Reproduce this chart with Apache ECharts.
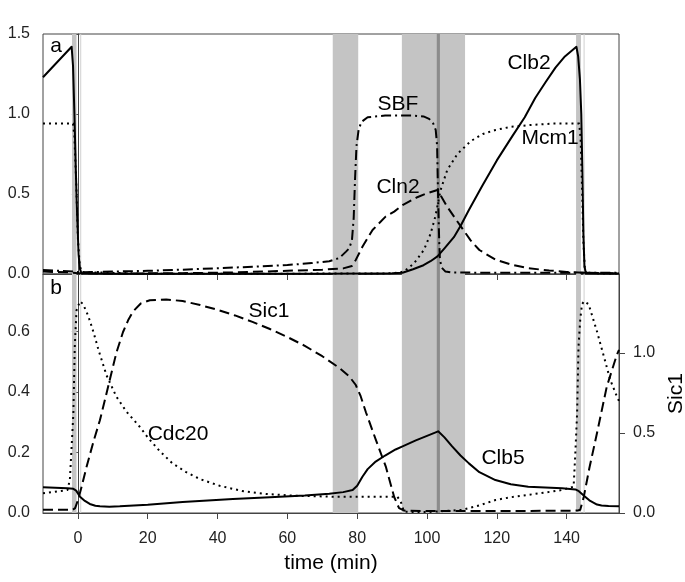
<!DOCTYPE html>
<html><head><meta charset="utf-8">
<script src="https://cdn.jsdelivr.net/npm/echarts@6/dist/echarts.min.js"></script>
<style>html,body{margin:0;padding:0;background:#fff}#c{width:685px;height:582px}</style>
</head><body><div id="c"></div><script>
// ---------- data ----------
const xTicks = [0, 20, 40, 60, 80, 100, 120, 140];
const yTicksTop = [0, 0.5, 1.0, 1.5];
const yTicksBottomLeft = [0, 0.2, 0.4, 0.6];
const yTicksBottomRight = [0, 0.5, 1.0];

// shaded intervals [start, end, kind]
const bands = [[-1.7, -0.4, 'main'], [0.65, 0.95, 'thin'], [73, 80.3, 'main'], [92.8, 110.9, 'main'],
  [102.8, 103.7, 'dark'], [142.7, 144.1, 'main'], [144.85, 145.15, 'thin']];

// panel a
const clb2T = [-10, -1.8, -1.4, -1.0, -0.6, -0.2, 0.2, 0.6, 1.0, 10, 30, 50, 70, 85, 90, 93, 96, 99, 101, 103, 105, 107.7, 109.6, 112, 115.8, 120, 124.4, 128, 131, 134, 136.8, 139.5, 142.8, 143.3, 143.8, 144.2, 144.5, 144.8, 145.1, 145.5, 150, 155];
const clb2 = [1.23, 1.42, 1.30, 1.00, 0.65, 0.35, 0.12, 0.03, 0.005, 0.002, 0.002, 0.002, 0.002, 0.003, 0.005, 0.008, 0.03, 0.055, 0.08, 0.11, 0.16, 0.23, 0.30, 0.40, 0.55, 0.71, 0.86, 0.98, 1.10, 1.20, 1.29, 1.36, 1.42, 1.36, 1.22, 1.0, 0.65, 0.25, 0.05, 0.005, 0.003, 0.003];

const mcm1T = [-10, -1.4, -1.0, -0.5, 0, 0.5, 1.0, 1.5, 20, 60, 90, 93.4, 96.3, 99.1, 101, 102.4, 103.9, 105.8, 108.7, 112.5, 116, 119.6, 124, 129, 136, 143.6, 144.0, 144.4, 144.8, 145.2, 145.6, 150, 155];
const mcm1 = [0.94, 0.94, 0.86, 0.58, 0.22, 0.06, 0.012, 0.003, 0.002, 0.002, 0.004, 0.015, 0.067, 0.15, 0.25, 0.36, 0.525, 0.65, 0.75, 0.83, 0.875, 0.90, 0.92, 0.93, 0.94, 0.94, 0.85, 0.55, 0.2, 0.04, 0.008, 0.003, 0.003];

const sbfT = [-10, -5, -1, 0.6, 10, 20, 30, 40, 50, 60, 67, 72, 74.9, 76.8, 77.7, 78.5, 79.0, 79.4, 79.8, 80.4, 81.2, 83, 88, 95.8, 99, 100.6, 101.8, 102.5, 102.9, 103.2, 103.5, 103.7, 104.2, 105.3, 107, 115, 130, 145, 155];
const sbf = [0.025, 0.02, 0.015, 0.01, 0.015, 0.02, 0.027, 0.036, 0.045, 0.056, 0.068, 0.08, 0.10, 0.14, 0.16, 0.21, 0.35, 0.6, 0.8, 0.9, 0.95, 0.98, 0.99, 0.99, 0.985, 0.97, 0.94, 0.90, 0.80, 0.46, 0.2, 0.09, 0.04, 0.015, 0.01, 0.008, 0.008, 0.008, 0.008];

const cln2T = [-10, -2, 0, 10, 30, 45, 60, 70, 76, 78.5, 79.6, 81.5, 84.4, 88.2, 90.6, 93, 97.2, 100, 103, 105.8, 109.6, 112.5, 115, 119.6, 124, 129, 135, 140, 145, 155];
const cln2 = [0.015, 0.01, 0.005, 0.003, 0.005, 0.01, 0.02, 0.027, 0.035, 0.05, 0.088, 0.17, 0.275, 0.36, 0.39, 0.43, 0.48, 0.505, 0.525, 0.42, 0.30, 0.21, 0.15, 0.09, 0.06, 0.036, 0.022, 0.013, 0.008, 0.005];

// panel b
const sic1T = [-10, -1.5, -0.8, 0, 1, 2.5, 4.5, 6.3, 8, 9.1, 11, 12.9, 14.5, 15.8, 18, 20.6, 25.3, 30, 35, 40, 45, 50, 55, 60, 65, 70, 75, 77.7, 79.6, 81, 82.5, 85.3, 88.2, 90.6, 92, 93.5, 100, 120, 143, 143.9, 144.9, 146.5, 148.7, 151.5, 154.4, 155];
const sic1 = [0.02, 0.02, 0.03, 0.08, 0.16, 0.29, 0.45, 0.58, 0.73, 0.83, 1.0, 1.13, 1.21, 1.26, 1.31, 1.33, 1.335, 1.325, 1.30, 1.27, 1.235, 1.195, 1.15, 1.10, 1.045, 0.98, 0.905, 0.855, 0.80, 0.73, 0.63, 0.46, 0.29, 0.10, 0.03, 0.015, 0.012, 0.012, 0.015, 0.02, 0.10, 0.28, 0.50, 0.79, 0.99, 1.02];

const cdc20T = [-10, -3, -2.3, -1.8, -1.3, -0.9, -0.4, 0.6, 1.5, 3, 4.4, 6, 8.2, 11, 13.9, 17.7, 20, 23.4, 27, 31, 35, 40.6, 47, 53.9, 62, 72.9, 85, 91.5, 92.5, 93.4, 100, 110, 115, 119.6, 124, 129, 134, 138.7, 142, 142.5, 143, 143.4, 143.9, 144.4, 145, 146.3, 148.7, 150.6, 152.5, 154.4, 155];
const cdc20 = [0.065, 0.076, 0.11, 0.22, 0.33, 0.55, 0.67, 0.70, 0.69, 0.65, 0.60, 0.535, 0.455, 0.385, 0.335, 0.285, 0.25, 0.205, 0.165, 0.135, 0.112, 0.09, 0.073, 0.063, 0.057, 0.054, 0.054, 0.054, 0.037, 0.004, 0.003, 0.01, 0.025, 0.043, 0.052, 0.06, 0.068, 0.076, 0.087, 0.2, 0.33, 0.55, 0.64, 0.69, 0.70, 0.69, 0.60, 0.52, 0.44, 0.385, 0.37];

const clb5T = [-10, -3, -1.3, -0.5, 0.6, 2, 3.4, 5, 6.3, 9, 12, 20, 30, 44.4, 55, 65, 72, 76, 78.7, 80, 81.5, 83, 85.3, 88, 91, 93, 96.8, 100, 103.2, 105, 107.2, 109.6, 112, 115, 119.6, 124, 129, 138.7, 142.5, 143.5, 145.3, 146.5, 148.7, 150, 152, 155];
const clb5 = [0.085, 0.082, 0.08, 0.074, 0.054, 0.04, 0.03, 0.024, 0.022, 0.021, 0.022, 0.027, 0.036, 0.046, 0.052, 0.058, 0.064, 0.069, 0.076, 0.09, 0.12, 0.145, 0.17, 0.19, 0.21, 0.22, 0.24, 0.255, 0.27, 0.25, 0.22, 0.19, 0.164, 0.135, 0.109, 0.095, 0.087, 0.082, 0.078, 0.072, 0.054, 0.042, 0.028, 0.025, 0.023, 0.022];

// ---------- chart ----------
const FONT = 'Liberation Sans, Arial, Helvetica, sans-serif';
const AX = '#444';
const zip = (t, v) => t.map((x, i) => [x, v[i]]);
const bandColor = { main: '#c4c4c4', thin: '#d2d2d2', dark: '#8c8c8c' };
const bandData = bands.map(b => [{ xAxis: b[0], itemStyle: { color: bandColor[b[2]] } }, { xAxis: b[1] }]);

const SOLID = 'solid', DASH = [10, 5], DOT = [2, 4], DASHDOT = [10, 4, 2, 4];
function line(name, t, v, type, xi, yi) {
  return { name, type: 'line', data: zip(t, v), xAxisIndex: xi, yAxisIndex: yi, symbol: 'none', z: 3,
    lineStyle: { color: '#000', width: 2, type, join: 'round' }, silent: true, animation: false };
}
function bandSeries(xi, yi) {
  return { type: 'line', data: [], xAxisIndex: xi, yAxisIndex: yi, z: 1, silent: true, animation: false,
    markArea: { silent: true, data: bandData, label: { show: false } } };
}
const grids = [
  { left: 43, right: 66, top: 34, height: 240, show: true, borderColor: AX, borderWidth: 1, outerBoundsMode: 'none', containLabel: false },
  { left: 43, right: 66, top: 274, height: 239, show: true, borderColor: AX, borderWidth: 1, outerBoundsMode: 'none', containLabel: false }
];
const axLine = { show: true, lineStyle: { color: AX, width: 1 } };
const tickSt = { show: true, inside: false, length: 6, lineStyle: { color: AX } };
const lab = { color: '#222', fontSize: 16, fontFamily: FONT };
const fmt1 = v => v.toFixed(1);

const option = {
  animation: false,
  grid: grids,
  xAxis: [
    { gridIndex: 0, type: 'value', min: -10, max: 155, axisLine: axLine, splitLine: { show: false },
      axisTick: Object.assign({}, tickSt, { customValues: xTicks }), axisLabel: { show: false } },
    { gridIndex: 1, type: 'value', min: -10, max: 155, axisLine: axLine, splitLine: { show: false },
      axisTick: Object.assign({}, tickSt, { customValues: xTicks }),
      axisLabel: Object.assign({}, lab, { customValues: xTicks, margin: 18 }),
      name: 'time (min)', nameLocation: 'middle', nameGap: 40,
      nameTextStyle: { color: '#000', fontSize: 21, fontFamily: FONT } }
  ],
  yAxis: [
    { gridIndex: 0, type: 'value', min: 0, max: 1.5, axisLine: axLine, splitLine: { show: false },
      axisTick: Object.assign({}, tickSt, { customValues: yTicksTop }),
      axisLabel: Object.assign({}, lab, { customValues: yTicksTop, formatter: fmt1, margin: 13 }) },
    { gridIndex: 1, type: 'value', min: 0, max: 0.79, axisLine: axLine, splitLine: { show: false },
      axisTick: Object.assign({}, tickSt, { customValues: yTicksBottomLeft }),
      axisLabel: Object.assign({}, lab, { customValues: yTicksBottomLeft, formatter: fmt1, margin: 13 }) },
    { gridIndex: 1, type: 'value', position: 'right', min: 0, max: 1.494, axisLine: axLine, splitLine: { show: false },
      axisTick: Object.assign({}, tickSt, { customValues: yTicksBottomRight }),
      axisLabel: Object.assign({}, lab, { customValues: yTicksBottomRight, formatter: fmt1, margin: 14 }),
      name: 'Sic1', nameLocation: 'middle', nameRotate: 90, nameGap: 40,
      nameTextStyle: { color: '#000', fontSize: 21, fontFamily: FONT } }
  ],
  series: [
    bandSeries(0, 0), bandSeries(1, 1),
    line('SBF', sbfT, sbf, DASHDOT, 0, 0),
    line('Cln2', cln2T, cln2, DASH, 0, 0),
    line('Mcm1', mcm1T, mcm1, DOT, 0, 0),
    line('Clb2', clb2T, clb2, SOLID, 0, 0),
    line('Cdc20', cdc20T, cdc20, DOT, 1, 1),
    line('Clb5', clb5T, clb5, SOLID, 1, 1),
    line('Sic1', sic1T, sic1, DASH, 1, 2)
  ],
  graphic: [
    ['a', 56, 46], ['b', 56, 288], ['SBF', 398, 104], ['Cln2', 398, 187], ['Clb2', 529, 63], ['Mcm1', 550, 138],
    ['Sic1', 269, 311], ['Cdc20', 178, 434], ['Clb5', 503, 458]
  ].map(([t, x, y]) => ({ type: 'text', x, y, z: 10, silent: true,
    style: { text: t, fill: '#000', font: '21px ' + FONT, textAlign: 'center', textVerticalAlign: 'middle' } }))
};
const chart = echarts.init(document.getElementById('c'), null, { renderer: 'canvas' });
chart.setOption(option);
</script></body></html>
